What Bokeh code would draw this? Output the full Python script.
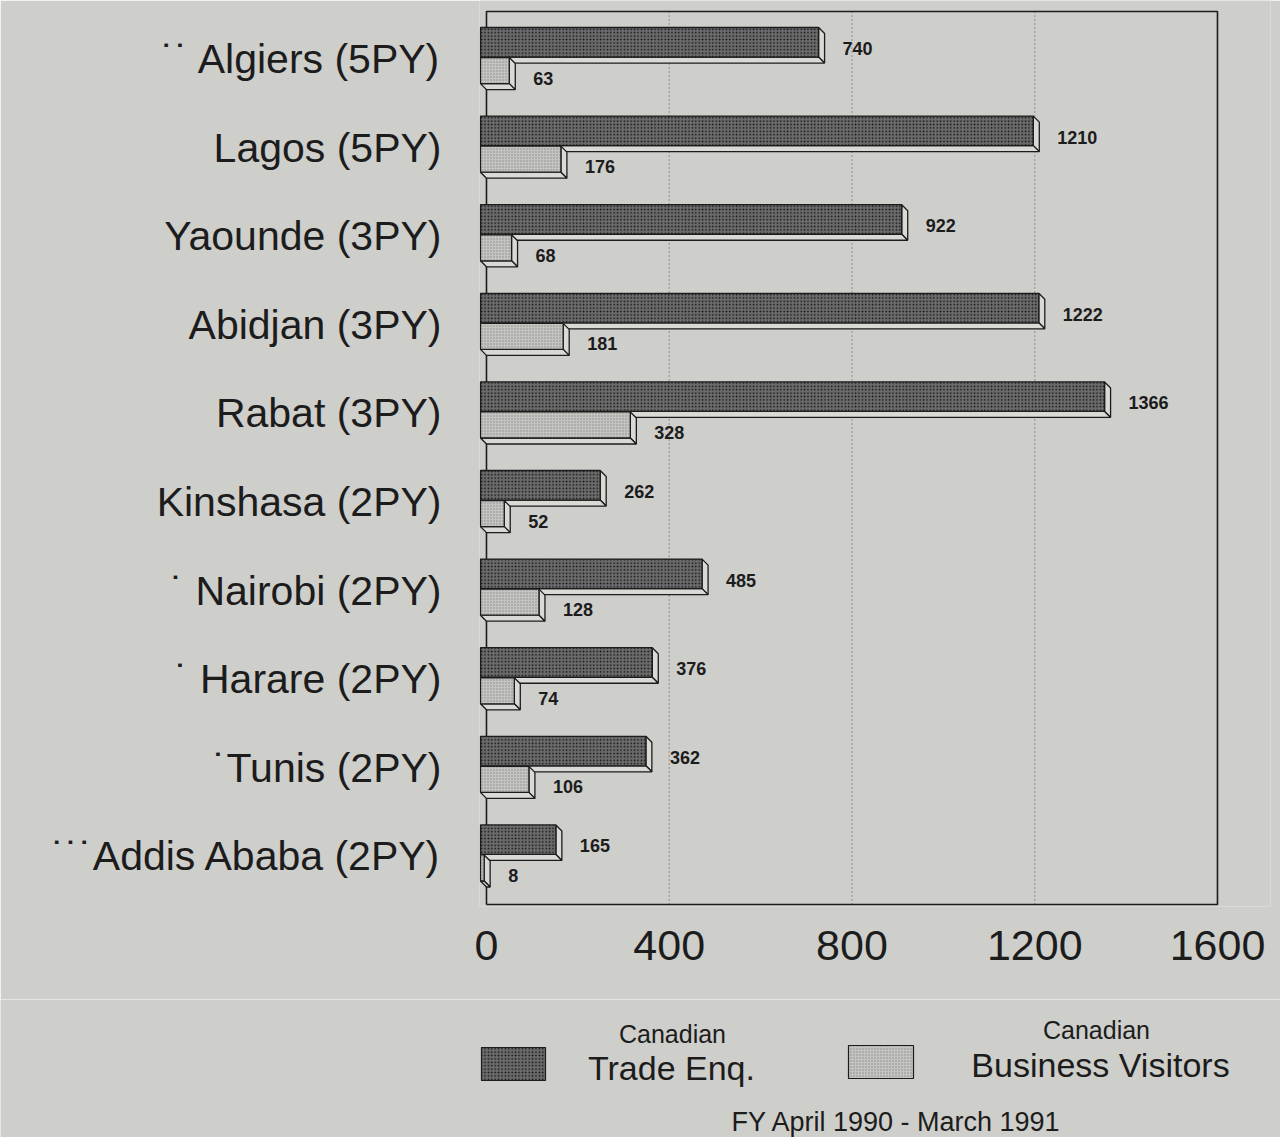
import re
from bokeh.plotting import figure
from bokeh.models import Range1d, FixedTicker
from bokeh.layouts import column
from bokeh.core.properties import value
from bokeh.embed import file_html
from bokeh.resources import INLINE

# ---------------- data ----------------
cities = ["Algiers (5PY)", "Lagos (5PY)", "Yaounde (3PY)", "Abidjan (3PY)", "Rabat (3PY)",
          "Kinshasa (2PY)", "Nairobi (2PY)", "Harare (2PY)", "Tunis (2PY)", "Addis Ababa (2PY)"]
marks = ["˙˙ ", "", "", "", "", "", "˙ ", "˙ ", "˙", "˙˙˙"]
trade_enq = [740, 1210, 922, 1222, 1366, 262, 485, 376, 362, 165]
business_visitors = [63, 176, 68, 181, 328, 52, 128, 74, 106, 8]
x_ticks = [0, 400, 800, 1200, 1600]
legend_top = ["Canadian", "Canadian"]
legend_main = ["Trade Enq.", "Business Visitors"]
footer = "FY April 1990 - March 1991"

# ---------------- style ----------------
BG = "#cececb"
FONT = "Liberation Sans"
INK = "#1c1c1c"
TRADE_FILL = "#6c6c6c"
BUS_FILL = "#c4c4c1"
SIDE_FILL = "#d9d9d6"

# geometry
FRAME_L = 479
FRAME_R = 1270
MAIN_H = 999
BOTTOM_BORDER = 93
FRAME_H = MAIN_H - BOTTOM_BORDER   # frame from canvas top (0) to 906
PX = 0.45687                       # px per x unit
PY = 88.6                          # px per y unit
X0 = -15.3
X1 = X0 + (FRAME_R - FRAME_L) / PX
Y_BOT = 9.52
Y_TOP = Y_BOT - FRAME_H / PY
DX = -6.0 / PX                     # 3-D offset (front face shifted left/up)
DY = -6.0 / PY

p = figure(width=1280, height=MAIN_H, output_backend="svg", toolbar_location=None,
           x_range=Range1d(X0, X1), y_range=Range1d(Y_BOT, Y_TOP),
           min_border_left=FRAME_L, min_border_right=1280 - FRAME_R,
           min_border_top=0, min_border_bottom=BOTTOM_BORDER)
p.background_fill_color = BG
p.border_fill_color = BG
p.outline_line_color = None
p.grid.visible = False

# axes
p.xaxis.ticker = FixedTicker(ticks=x_ticks)
p.xaxis.axis_line_color = None
p.xaxis.major_tick_line_color = None
p.xaxis.minor_tick_line_color = None
p.xaxis.major_label_text_font = FONT
p.xaxis.major_label_text_font_size = "43px"
p.xaxis.major_label_text_color = INK
p.xaxis.major_label_standoff = 18

n = len(cities)
ytick_pos = [k - 0.045 for k in range(n)]
p.yaxis.ticker = FixedTicker(ticks=ytick_pos)
p.yaxis.major_label_overrides = {ytick_pos[k]: marks[k] + cities[k] for k in range(n)}
p.yaxis.axis_line_color = None
p.yaxis.major_tick_line_color = None
p.yaxis.minor_tick_line_color = None
p.yaxis.major_label_text_font = FONT
p.yaxis.major_label_text_font_size = "41px"
p.yaxis.major_label_text_color = INK
p.yaxis.major_label_standoff = 32

# dotted grid lines and frame box
BOX_TOP, BOX_BOT = -0.581, 9.497
gx = [t for t in x_ticks[1:-1]]
p.segment(x0=gx, y0=[BOX_TOP] * len(gx), x1=gx, y1=[BOX_BOT] * len(gx),
          line_color="#6a6a6a", line_width=1.2, line_dash="1 3")
p.multi_line(xs=[[0, 0, x_ticks[-1], x_ticks[-1], 0]], ys=[[BOX_BOT, BOX_TOP, BOX_TOP, BOX_BOT, BOX_BOT]],
             line_color=INK, line_width=1.6)


def bar_faces(vals, offs_top, offs_bot):
    fx, fy, sx, sy = [], [], [], []
    for k, v in enumerate(vals):
        y0 = k + offs_top
        y1 = k + offs_bot
        fx.append([DX, v + DX, v + DX, DX])
        fy.append([y0 + DY, y0 + DY, y1 + DY, y1 + DY])
        # right side face
        sx.append([v + DX, v, v, v + DX])
        sy.append([y0 + DY, y0, y1, y1 + DY])
        # bottom face
        sx.append([DX, v + DX, v, 0])
        sy.append([y1 + DY, y1 + DY, y1, y1])
    return fx, fy, sx, sy


T_TOP, T_BOT = -0.333, 0.0
B_TOP, B_BOT = 0.006, 0.300

tfx, tfy, tsx, tsy = bar_faces(trade_enq, T_TOP, T_BOT)
bfx, bfy, bsx, bsy = bar_faces(business_visitors, B_TOP, B_BOT)

p.patches(tsx, tsy, fill_color=SIDE_FILL, line_color=INK, line_width=1.3)
p.patches(tfx, tfy, fill_color=TRADE_FILL, line_color=INK, line_width=1.3,
          hatch_pattern="dot", hatch_color="#111111", hatch_scale=3.4, hatch_weight=2.0)
p.patches(bsx, bsy, fill_color=SIDE_FILL, line_color=INK, line_width=1.3)
p.patches(bfx, bfy, fill_color=BUS_FILL, line_color=INK, line_width=1.3,
          hatch_pattern="dot", hatch_color="#8a8a88", hatch_scale=3.0, hatch_weight=1.0)

# value labels
ys_t = [k - 0.164 for k in range(n)]
ys_b = [k + 0.17 for k in range(n)]
p.text(x=trade_enq, y=ys_t, text=[str(v) for v in trade_enq], x_offset=18,
       text_font=value(FONT), text_font_style="bold", text_font_size="18px",
       text_color=INK, text_align="left", text_baseline="middle")
p.text(x=business_visitors, y=ys_b, text=[str(v) for v in business_visitors], x_offset=18,
       text_font=value(FONT), text_font_style="bold", text_font_size="18px",
       text_color=INK, text_align="left", text_baseline="middle")

# ---------------- legend / footer figure ----------------
LEG_H = 1137 - MAIN_H
leg = figure(width=1280, height=LEG_H, output_backend="svg", toolbar_location=None,
             x_range=Range1d(0, 1280), y_range=Range1d(LEG_H, 0),
             min_border_left=0, min_border_right=0, min_border_top=0, min_border_bottom=0)
leg.frame_align = False
leg.axis.visible = False
leg.grid.visible = False
leg.background_fill_color = BG
leg.border_fill_color = BG
leg.outline_line_color = None

leg.quad(left=[481], right=[545], top=[48], bottom=[81], fill_color=TRADE_FILL, line_color=INK,
         line_width=1.2, hatch_pattern="dot", hatch_color="#111111", hatch_scale=3.4, hatch_weight=2.0)
leg.quad(left=[848], right=[913], top=[46], bottom=[79], fill_color=BUS_FILL, line_color=INK,
         line_width=1.2, hatch_pattern="dot", hatch_color="#8a8a88", hatch_scale=3.0, hatch_weight=1.0)

leg.text(x=[672, 1096], y=[34, 30], text=legend_top, text_font=value(FONT), text_font_size="25px",
         text_color=INK, text_align="center", text_baseline="middle")
leg.text(x=[671, 1100], y=[68, 65], text=legend_main, text_font=value(FONT), text_font_size="34px",
         text_color=INK, text_align="center", text_baseline="middle")
leg.text(x=[896], y=[122], text=[footer], text_font=value(FONT), text_font_size="27px",
         text_color=INK, text_align="center", text_baseline="middle")

layout = column(p, leg, spacing=0)
html = file_html(layout, INLINE)
html = re.sub(r"<body([^>]*)>", r'<body\1 style="background-color:%s;">' % BG, html, count=1)
open("out.html", "w").write(html)
